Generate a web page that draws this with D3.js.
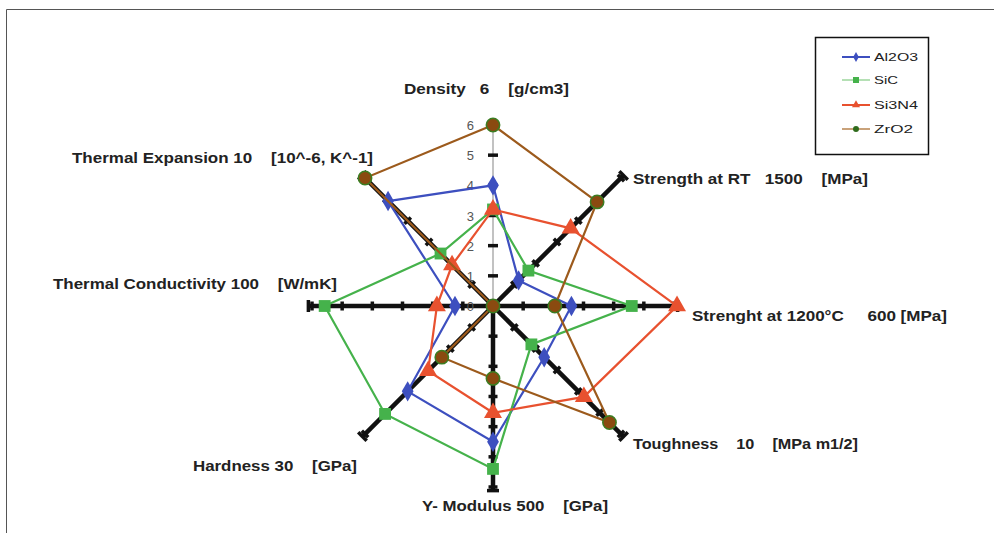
<!DOCTYPE html>
<meta charset="utf-8">
<script src="https://d3js.org/d3.v7.min.js"></script>
<style>
  body { margin: 0; background: #fff; }
  text { font-family: "Liberation Sans", Arial, sans-serif; white-space: pre; }
</style>
<div id="radar"></div>
<script>
    const width = 994, height = 533;

    // axes, clockwise from the top, with the value that reaches the outer ring
    const axes = ["Density", "Strength RT", "Strength 1200", "Toughness", "Y-Modulus", "Hardness", "Thermal Conductivity", "Thermal Expansion"];
    const axisMax = [6, 1500, 600, 10, 500, 30, 100, 10];
    const axisLabels = [
        "Density   6    [g/cm3]",
        "Strength at RT   1500    [MPa]",
        "Strenght at 1200°C     600 [MPa]",
        "Toughness    10    [MPa m1/2]",
        "Y- Modulus 500    [GPa]",
        "Hardness 30    [GPa]",
        "Thermal Conductivity 100    [W/mK]",
        "Thermal Expansion 10    [10^-6, K^-1]"
    ];
    const ringTicks = [0, 1, 2, 3, 4, 5, 6];

    const seriesNames = ["Al2O3", "SiC", "Si3N4", "ZrO2"];
    const al2o3 = [4.0, 300, 260, 4.0, 375, 20, 21, 8.2];
    const sic   = [3.2, 415, 460, 3.0, 450, 25.3, 93, 4.1];
    const si3n4 = [3.2, 910, 610, 7.1, 295, 15.2, 31, 3.2];
    const zro2  = [6.0, 1220, 205, 9.1, 200, 12, 0, 10];

    const colors = ["#3d4fbf", "#45b24b", "#e8512f", "#9c5a1c"];
    const legendLineColors = ["#3d4fbf", "#b5e0b5", "#e8512f", "#c9a27a"];
    const symbols = [d3.symbolDiamond, d3.symbolSquare, d3.symbolTriangle, d3.symbolCircle];

    const cx = 493, cy = 306;
    const r = d3.scaleLinear().domain([0, 6]).range([0, 181]);
    const angle = i => i * Math.PI / 4;
    const px = (i, u) => cx + r(u) * Math.sin(angle(i));
    const py = (i, u) => cy - r(u) * Math.cos(angle(i));
    const norm = (vals) => vals.map((v, i) => v / axisMax[i] * 6);

    const svg = d3.select("#radar").append("svg")
        .attr("width", width).attr("height", height);

    // frame
    svg.append("path")
        .attr("d", `M6.5,${height}V9.5H${width}`)
        .attr("fill", "none").attr("stroke", "#555").attr("stroke-width", 1);

    // spokes
    const spokes = svg.append("g");
    axes.forEach((a, i) => {
        const ang = angle(i);
        const ux = Math.sin(ang), uy = -Math.cos(ang);
        const nx = -uy, ny = ux;
        const end = 6.12;
        if (i === 0) {
            spokes.append("line")
                .attr("x1", cx).attr("y1", cy).attr("x2", px(i, 6.2)).attr("y2", py(i, 6.2))
                .attr("stroke", "#999").attr("stroke-width", 1.2);
            ringTicks.slice(1).forEach(t => {
                spokes.append("line")
                    .attr("x1", px(i, t) - 5).attr("x2", px(i, t) + 5)
                    .attr("y1", py(i, t)).attr("y2", py(i, t))
                    .attr("stroke", "#111").attr("stroke-width", 3.5);
            });
            return;
        }
        spokes.append("line")
            .attr("x1", cx).attr("y1", cy).attr("x2", px(i, end)).attr("y2", py(i, end))
            .attr("stroke", "#111").attr("stroke-width", 4.5);
        ringTicks.slice(1).concat([end]).forEach(t => {
            const x = px(i, t), y = py(i, t);
            const h = t === end ? 6 : 4.5;
            spokes.append("line")
                .attr("x1", x - nx * h).attr("y1", y - ny * h)
                .attr("x2", x + nx * h).attr("y2", y + ny * h)
                .attr("stroke", "#111").attr("stroke-width", 3.5);
        });
    });

    // tick numbers on the density axis
    svg.append("g").selectAll("text")
        .data(ringTicks)
        .join("text")
        .attr("x", cx - 19)
        .attr("y", d => py(0, d) + 5)
        .attr("text-anchor", "end")
        .attr("font-size", 13)
        .attr("fill", "#555")
        .text(d => d);

    // series
    const all = [al2o3, sic, si3n4, zro2];
    const line = d3.lineRadial()
        .angle((d, i) => angle(i))
        .radius(d => r(d))
        .curve(d3.curveLinearClosed);

    all.forEach((vals, s) => {
        const n = norm(vals);
        const g = svg.append("g").attr("transform", `translate(${cx},${cy})`);
        g.append("path")
            .attr("d", line(n))
            .attr("fill", "none")
            .attr("stroke", colors[s])
            .attr("stroke-width", 2.2);
        g.selectAll("path.m")
            .data(n)
            .join("path")
            .attr("class", "m")
            .attr("transform", (d, i) => `translate(${px(i, d) - cx},${py(i, d) - cy})`)
            .attr("d", d3.symbol().type(symbols[s]).size(s === 3 ? 140 : s === 0 ? 120 : 140))
            .attr("fill", s === 3 ? "#8a4a10" : colors[s])
            .attr("stroke", s === 3 ? "#3b7d22" : "none")
            .attr("stroke-width", 1.5);
    });

    // axis labels (the source text is drawn wide, so each label gets its measured width)
    const labelPos = [
        {x: 404, y: 94, w: 165},
        {x: 633, y: 184, w: 235},
        {x: 692, y: 321, w: 255},
        {x: 633, y: 449, w: 225},
        {x: 422, y: 511, w: 186},
        {x: 193, y: 471, w: 164},
        {x: 53, y: 289, w: 284},
        {x: 72, y: 163, w: 301}
    ];
    svg.append("g").selectAll("text")
        .data(axisLabels)
        .join("text")
        .attr("x", (d, i) => labelPos[i].x)
        .attr("y", (d, i) => labelPos[i].y)
        .attr("textLength", (d, i) => labelPos[i].w)
        .attr("lengthAdjust", "spacingAndGlyphs")
        .attr("font-size", 15)
        .attr("font-weight", "bold")
        .attr("fill", "#222")
        .text(d => d);

    // legend
    const lg = svg.append("g");
    lg.append("rect")
        .attr("x", 815.5).attr("y", 37.5).attr("width", 113).attr("height", 117)
        .attr("fill", "#fff").attr("stroke", "#111").attr("stroke-width", 1.5);
    const ly = [57, 80, 105, 129];
    const lw = [44, 24, 44, 39];
    seriesNames.forEach((name, s) => {
        lg.append("line")
            .attr("x1", 842).attr("x2", 870).attr("y1", ly[s]).attr("y2", ly[s])
            .attr("stroke", legendLineColors[s]).attr("stroke-width", 2);
        lg.append("path")
            .attr("transform", `translate(856,${ly[s]})`)
            .attr("d", d3.symbol().type(symbols[s]).size(s === 1 ? 36 : 28))
            .attr("fill", s === 3 ? "#2f6b1c" : colors[s]);
        lg.append("text")
            .attr("x", 874).attr("y", ly[s] + 4)
            .attr("textLength", lw[s])
            .attr("lengthAdjust", "spacingAndGlyphs")
            .attr("font-size", 11.5)
            .attr("fill", "#222")
            .text(name);
    });
</script>
